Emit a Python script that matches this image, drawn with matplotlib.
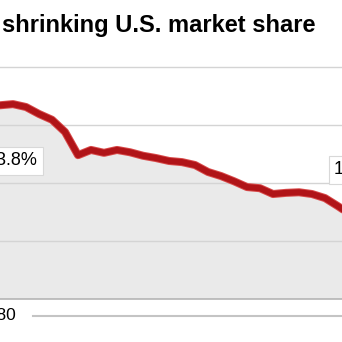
import matplotlib
matplotlib.use("Agg")
from matplotlib import pyplot as plt

plt.rcParams['font.family'] = ['Liberation Sans', 'DejaVu Sans']

# market share (%) by year
years = [1980, 1981, 1982, 1983, 1984, 1985, 1986, 1987, 1988, 1989,
         1990, 1991, 1992, 1993, 1994, 1995, 1996, 1997, 1998, 1999,
         2000, 2001, 2002, 2003, 2004, 2005, 2006, 2007]
share = [43.4, 43.6, 43.1, 41.9, 40.9, 38.8, 34.8, 35.7, 35.2, 35.7,
         35.3, 34.7, 34.3, 33.8, 33.6, 33.1, 31.9, 31.2, 30.3, 29.3,
         29.1, 28.1, 28.3, 28.4, 28.1, 27.4, 26.0, 24.5]
grid_vals = [50, 40, 30, 20]
title = "shrinking U.S. market share"
first_label = "43.8%"
last_label = "19.0%"
year_label = "1980"

fig = plt.figure(figsize=(3.42, 3.42), dpi=100)
ax = fig.add_axes([0, 0, 1, 1])
ax.set_xlim(1980, 1980 + 342 / 13)
ax.set_ylim(50 - 275 / 5.8, 50 + 67 / 5.8)
ax.axis('off')

# gray area under the line
ax.fill_between(years, share, 10, color='#eaeaea', zorder=1, lw=0)

# grid
for g in grid_vals:
    ax.axhline(g, color='#d4d4d4', lw=1.0, zorder=2)
ax.axhline(10, color='#b5b5b5', lw=1.2, zorder=2)

# the share line
ax.plot(years, share, color='#d84a4a', lw=5.8, zorder=3, solid_capstyle='round')
ax.plot(years, share, color='#b01418', lw=4.4, zorder=4, solid_capstyle='round')

# value labels
box = dict(boxstyle='square,pad=0.3', fc='white', ec='#d8d8d8', lw=0.8)
ax.text(1978.95, 33.8, first_label, fontsize=13, ha='left', va='center',
        bbox=box, zorder=5)
ax.text(2005.7, 32.3, last_label, fontsize=13, ha='left', va='center',
        bbox=box, zorder=5)

# time axis
ax.text(1981.25, 7.07, year_label, fontsize=12.5, ha='right', va='center')
ax.plot([1980 + 33 / 13, 2007], [7.07, 7.07], color='#c4c4c4', lw=1.5)

fig.text(2 / 342, 1 - 32 / 342, title, fontsize=17, fontweight='bold',
         ha='left', va='baseline')

fig.savefig('out.png', dpi=100)
